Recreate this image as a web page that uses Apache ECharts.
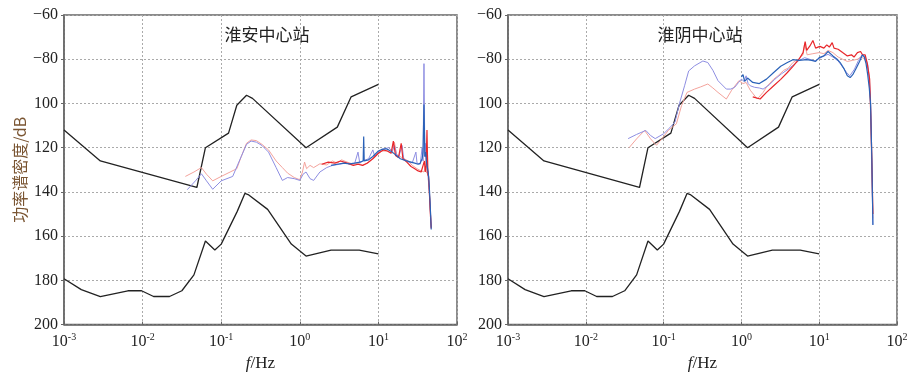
<!DOCTYPE html>
<html>
<head>
<meta charset="utf-8">
<script src="https://cdn.jsdelivr.net/npm/echarts@6/dist/echarts.min.js"></script>
<style>
  html, body { margin: 0; padding: 0; background: #fff; }
  #main { width: 915px; height: 377px; }
</style>
</head>
<body>
<div id="main"></div>
<script>
// Peterson model curves, [f(Hz), dB]
var highModel = [[0.001, -112], [0.0029, -126], [0.049, -138], [0.063, -120], [0.124, -113.4], [0.158, -100.8],
  [0.21, -96.3], [0.25, -97.7], [1.2, -120], [3.0, -110.7], [4.5, -97], [10, -91.4]]
var lowModel = [[0.001, -179.3], [0.00166, -184.2], [0.0029, -187.3], [0.0065, -184.7], [0.0097, -184.7],
  [0.0138, -187.3], [0.022, -187.3], [0.0316, -184.7], [0.045, -177.5], [0.063, -162.2], [0.083, -166.3],
  [0.1, -163.6], [0.16, -148.8], [0.2, -140.7], [0.22, -141.2], [0.39, -147.9], [0.78, -163.6], [1.2, -169],
  [2.5, -166.3], [5.7, -166.3], [10, -168]]

// 淮安中心站
var haLightRed = [[0.035, -133], [0.045, -131], [0.056, -129], [0.065, -132], [0.078, -135], [0.1, -133],
  [0.13, -131], [0.158, -129.5], [0.18, -124], [0.21, -118], [0.24, -116.5], [0.28, -116.8], [0.33, -118.5],
  [0.4, -121], [0.5, -126], [0.6, -129], [0.7, -131.5], [0.85, -133.5], [1.0, -134.5], [1.08, -131],
  [1.15, -126.5], [1.22, -129.5], [1.35, -128], [1.5, -129], [1.8, -127.3], [2.2, -127.8], [2.6, -126],
  [3.0, -127], [3.4, -125.5], [4.0, -126.5], [4.8, -127.5], [5.5, -127], [6.3, -128], [7.5, -126.5],
  [9, -124], [11, -121.5], [13, -121.5], [15, -122.5], [16, -117.5], [17, -123], [20, -124.5], [24, -126],
  [27, -128], [31, -129.5], [35, -130.5], [38, -131], [40, -128], [41, -131.5], [42, -120], [43, -134],
  [44, -138], [45.5, -145], [47, -156]]
var haLightBlue = [[0.037, -139], [0.047, -135], [0.056, -131.8], [0.065, -135], [0.078, -138.8], [0.1, -135],
  [0.14, -133], [0.17, -126], [0.21, -118.5], [0.24, -117], [0.28, -117.5], [0.33, -119], [0.4, -122],
  [0.5, -129], [0.6, -134.8], [0.7, -133.5], [0.85, -134], [1.0, -134.8], [1.1, -132], [1.2, -131],
  [1.35, -134], [1.5, -134.8], [1.8, -131], [2.2, -129], [2.6, -128], [3.2, -127.5], [3.8, -127],
  [4.3, -127.3], [5.0, -127], [5.5, -122], [5.8, -127], [6.3, -126], [7.5, -125], [8.5, -121], [9, -124],
  [11, -120.8], [13.5, -120], [15, -121.5], [16, -119], [17, -123], [18, -124.6], [20, -119], [21, -125],
  [24, -126.5], [27, -126.8], [30, -122], [31, -127], [34, -127.5], [36, -120], [37, -126], [38, -82],
  [39, -124], [40, -118], [41, -127], [43, -133], [44, -138], [45.5, -146], [47, -156]]
var haRed = [[1.9, -127.5], [2.3, -126.5], [2.8, -127], [3.3, -126], [4, -127], [4.8, -128], [5.5, -127.5],
  [6.3, -128], [7.2, -127], [8.5, -125], [10, -122.5], [11.5, -121], [13, -121.5], [14.5, -122.5],
  [15.5, -117], [16.5, -123.5], [18, -124.5], [19.5, -118], [20.5, -125], [23, -126.5], [26, -128.5],
  [29, -129.5], [32, -130.5], [35, -131], [37, -130.5], [38.5, -126], [39.5, -131], [40.5, -128],
  [41.5, -112], [42.5, -132], [43.5, -133], [44.5, -140], [45.5, -148], [47, -156.5]]
var haBlue = [[2.5, -128], [3, -127.5], [3.6, -127], [4.3, -127.3], [5, -127], [5.8, -126.5], [6.4, -126],
  [6.5, -115], [6.6, -126], [7.5, -125.5], [8.5, -124], [10, -121.5], [11, -120.8], [12.5, -120.5],
  [13.5, -121], [15, -122], [17, -123.5], [19, -125], [21, -125.5], [23, -126], [26, -126.5], [29, -127],
  [32, -127.5], [34, -127], [36, -125], [37, -122], [38, -100.5], [39, -124], [40, -122], [41, -127],
  [42, -129], [43, -131], [44, -135], [45.5, -145], [47, -157]]

// 淮阴中心站
var hyLightRed = [[0.036, -120], [0.045, -116], [0.057, -112.2], [0.068, -116], [0.081, -118.9], [0.1, -115],
  [0.115, -112.2], [0.146, -109.2], [0.17, -101], [0.2, -95], [0.25, -93.5], [0.3, -92.5], [0.37, -91.2],
  [0.43, -93], [0.5, -95], [0.64, -98], [0.75, -94], [0.93, -89.7], [1.05, -91], [1.15, -90.5], [1.3, -94],
  [1.6, -98], [1.9, -95], [2.16, -92], [2.6, -89], [2.95, -87.5], [3.5, -85], [4.0, -84], [4.6, -81.5],
  [5.4, -80], [6.2, -78], [6.5, -73], [7, -78], [8.3, -77.5], [10, -77], [11.5, -77.5], [13, -76], [15, -77],
  [17.5, -79], [20, -80], [23, -81], [27, -80.5], [31, -80], [34, -79], [37, -79.5], [40, -81], [42, -84],
  [44, -90], [45.7, -100], [47, -125], [49, -152]]
var hyLightBlue = [[0.035, -115.9], [0.045, -114], [0.059, -112.2], [0.068, -114.5], [0.078, -115.9],
  [0.1, -113.7], [0.12, -111], [0.14, -108.4], [0.16, -100], [0.186, -92], [0.21, -85.3], [0.25, -83],
  [0.32, -80.8], [0.37, -81.5], [0.43, -85], [0.5, -89.7], [0.64, -93.5], [0.73, -93.5], [0.82, -92.7],
  [0.92, -90.5], [1.0, -89], [1.08, -90], [1.15, -87.5], [1.22, -91], [1.3, -92], [1.48, -92.7], [1.7, -93],
  [1.9, -93.5], [2.3, -91.5], [2.7, -89], [3.3, -86.5], [4.0, -84.5], [4.7, -82.5], [5.4, -80.8],
  [6.5, -79.3], [7.5, -80], [8.8, -80.8], [10, -79.7], [11.5, -78.5], [13, -77.8], [15, -79], [17.5, -80.8],
  [20, -83.5], [22.5, -86], [24.7, -87.5], [28.4, -84.5], [32, -80.5], [36, -77.8], [39, -79], [42, -82.3],
  [44, -88], [45.7, -98], [47, -120], [49, -154.8]]
var hyRed = [[1.4, -97], [1.74, -98], [2.1, -95], [2.6, -92], [3.2, -89.1], [3.9, -86], [4.6, -83.2],
  [5.5, -80], [6.2, -77], [6.6, -72], [6.9, -76], [7.6, -74], [8.3, -71.5], [9, -75], [10.2, -74.2],
  [11.5, -75], [12.5, -73.5], [13.5, -74.5], [14.7, -72.5], [15.5, -75], [17.5, -75.5], [20, -77],
  [23, -78.5], [26, -78], [28, -79], [31, -77], [34, -76.5], [36, -78], [39, -78], [41.5, -82], [44.5, -89],
  [46, -105], [47.5, -125], [49, -150]]
var hyBlue = [[1.0, -88], [1.05, -87], [1.1, -90], [1.2, -88.5], [1.4, -90.5], [1.7, -91], [2.1, -89],
  [2.6, -86], [3.2, -83.2], [3.9, -81.5], [4.6, -80.2], [5.5, -80.5], [6.9, -80.2], [8, -80.5], [9, -81],
  [10, -79.3], [11.5, -78.5], [13, -76.5], [15, -78.5], [17, -80], [18.6, -81.5], [21, -84.5], [23, -87.5],
  [25, -88.3], [27, -87], [30, -84], [33, -81], [36, -78], [38, -79], [40, -82], [42, -87], [44, -93],
  [45.7, -100], [47.5, -125], [49, -155]]

var panelTitles = ['淮安中心站', '淮阴中心站']

var serif = '"Liberation Serif", "DejaVu Serif", serif'
var cjk = '"Noto Sans CJK SC", sans-serif'

function xAxisOf(idx) {
  return {
    type: 'log',
    gridIndex: idx,
    min: 0.001,
    max: 100,
    logBase: 10,
    name: '{i|f}/Hz',
    nameLocation: 'middle',
    nameGap: 28,
    nameTextStyle: {
      fontFamily: serif, fontSize: 17, color: '#222',
      rich: { i: { fontFamily: serif, fontStyle: 'italic', fontSize: 17, color: '#222' } }
    },
    axisLine: { show: true, lineStyle: { color: '#666', width: 1.5 } },
    axisTick: { show: true, inside: true, length: 3, lineStyle: { color: '#666' } },
    minorTick: { show: false },
    splitLine: { show: true, lineStyle: { color: '#aaa', type: [2, 2], width: 1 } },
    axisLabel: {
      margin: 8,
      formatter: function(v) {
        var e = Math.round(Math.log(v) / Math.LN10)
        return '{b|10}{s|' + e + '}'
      },
      rich: {
        b: { fontFamily: serif, fontSize: 16, color: '#222' },
        s: { fontFamily: serif, fontSize: 10, color: '#222', padding: [0, 0, 9, 0] }
      }
    }
  }
}

function yAxisOf(idx) {
  return {
    type: 'value',
    gridIndex: idx,
    min: -200,
    max: -60,
    interval: 20,
    name: idx === 0 ? '功率谱密度/dB' : '',
    nameLocation: 'middle',
    nameRotate: 90,
    nameGap: 36,
    nameTextStyle: { fontFamily: cjk, fontSize: 16, color: '#7a5532' },
    axisLine: { show: true, lineStyle: { color: '#666', width: 1.5 } },
    axisTick: { show: true, length: 3, lineStyle: { color: '#666' } },
    splitLine: { show: true, lineStyle: { color: '#aaa', type: [2, 2], width: 1 } },
    axisLabel: {
      margin: 6,
      fontFamily: serif,
      fontSize: 16,
      color: '#222',
      formatter: function(v) {
        return v > -100 ? '\u2212' + (-v) : String(-v)
      }
    }
  }
}

function line(data, idx, color, width) {
  return {
    type: 'line',
    xAxisIndex: idx,
    yAxisIndex: idx,
    data: data,
    showSymbol: false,
    symbol: 'none',
    silent: true,
    animation: false,
    lineStyle: { color: color, width: width }
  }
}

var chart = echarts.init(document.getElementById('main'), null, { renderer: 'canvas' })
var series = []
;[0, 1].forEach(function(i) {
  var lr = i === 0 ? haLightRed : hyLightRed
  var lb = i === 0 ? haLightBlue : hyLightBlue
  var r = i === 0 ? haRed : hyRed
  var b = i === 0 ? haBlue : hyBlue
  series.push(line(highModel, i, '#222', 1.3))
  series.push(line(lowModel, i, '#222', 1.3))
  series.push(line(lr, i, '#f4a39c', 1))
  series.push(line(lb, i, '#8e8ee2', 1))
  series.push(line(r, i, '#e8262a', 1.2))
  series.push(line(b, i, '#2a62b8', 1.2))
})

chart.setOption({
  animation: false,
  backgroundColor: '#fff',
  grid: [
    { left: 64, right: 458, top: 15, bottom: 50, show: true, borderColor: '#666', borderWidth: 1.5 },
    { left: 508, right: 18, top: 15, bottom: 50, show: true, borderColor: '#666', borderWidth: 1.5 }
  ],
  xAxis: [xAxisOf(0), xAxisOf(1)],
  yAxis: [yAxisOf(0), yAxisOf(1)],
  graphic: [
    { type: 'text', x: 267, y: 26, style: { text: panelTitles[0], font: '17px ' + cjk, fill: '#222', textAlign: 'center' } },
    { type: 'text', x: 700, y: 26, style: { text: panelTitles[1], font: '17px ' + cjk, fill: '#222', textAlign: 'center' } }
  ],
  series: series
})
</script>
</body>
</html>
